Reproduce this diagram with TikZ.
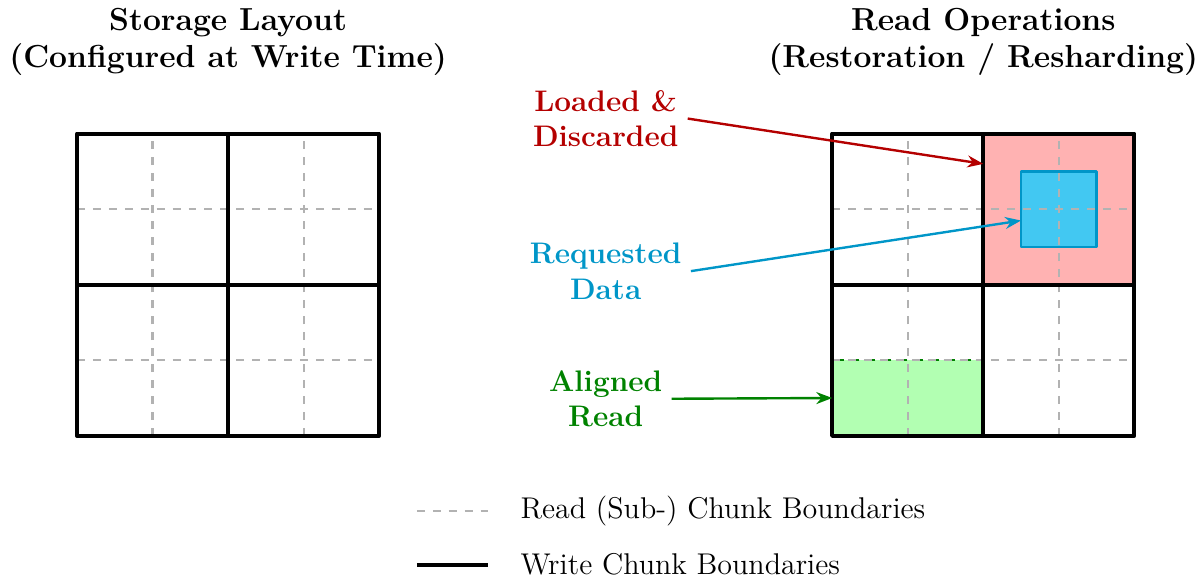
\documentclass[tikz,border=0pt]{standalone}
\usepackage{xcolor}
\usepackage{tikz}
\usetikzlibrary{arrows, arrows.meta, positioning, calc}

\definecolor{discardred}{RGB}{180,0,0}
\definecolor{reqblue}{RGB}{0,150,200}
\definecolor{reqfill}{RGB}{66,200,242}
\definecolor{alignedgreen}{RGB}{0,130,0}

\begin{document}
\begin{tikzpicture}[line join=round,
    subline/.style={draw=gray!60, dashed, line width=0.8pt},
    writeline/.style={draw=black, line width=1.6pt},
    title/.style={font=\large\bfseries, align=center},
    callout/.style={font=\fontsize{11.2}{13.5}\selectfont\bfseries, align=center},
    cell/.style={rectangle, inner sep=0pt, outer sep=0pt},
    keytext/.style={anchor=west, inner sep=1pt, font=\fontsize{11.3}{13.5}\selectfont},
    line/.style={draw, -{Stealth[length=6pt, width=4.5pt]}, line width=0.9pt}]

    \useasboundingbox (-1.02,-1.87) rectangle (14.87,5.77);

    % Titles
    \node [title] (storetitle) at (2,5.22) {Storage Layout\\(Configured at Write Time)};
    \node [title] (readtitle) at (12,5.22) {Read Operations\\(Restoration / Resharding)};

    % Left grid: storage layout
    \foreach \p in {1,3} {
        \draw [subline] (\p,0) -- (\p,4);
        \draw [subline] (0,\p) -- (4,\p);
    }
    \draw [writeline] (0,0) rectangle (4,4);
    \draw [writeline] (2,0) -- (2,4) (0,2) -- (4,2);

    % Right grid: highlighted regions
    \node [cell, fill=red!30, minimum size=2cm] (loaded) at (13,3) {};
    \node [cell, fill=reqfill, draw=reqblue, line width=0.9pt, minimum size=1cm] (req) at (13,3) {};
    \node [cell, fill=green!30, draw=alignedgreen, dashed, line width=0.9pt, minimum width=2cm, minimum height=1cm] (aligned) at (11,0.5) {};

    \foreach \p in {11,13} \draw [subline] (\p,0) -- (\p,4);
    \foreach \p in {1,3} \draw [subline] (10,\p) -- (14,\p);
    \draw [writeline] (10,0) rectangle (14,4);
    \draw [writeline] (12,0) -- (12,4) (10,2) -- (14,2);

    % Callouts
    \node [callout, text=discardred] (loadlbl) at (7.0,4.2) {Loaded \&\\Discarded};
    \node [callout, text=reqblue] (reqlbl) at (7.0,2.18) {Requested\\Data};
    \node [callout, text=alignedgreen] (alignlbl) at (7.0,0.49) {Aligned\\Read};

    \path [line, discardred] (loadlbl.east) -- ($(loaded.north west)!0.2!(loaded.south west)$);
    \path [line, reqblue] (reqlbl.east) -- ($(req.north west)!0.65!(req.south west)$);
    \path [line, alignedgreen] (alignlbl.east) -- (aligned.west);

    % Legend
    \coordinate (dashA) at (4.5,-1.0);
    \coordinate (dashB) at (5.44,-1.0);
    \coordinate (solidA) at (4.5,-1.71);
    \coordinate (solidB) at (5.44,-1.71);
    \draw [subline] (dashA) -- (dashB);
    \draw [writeline] (solidA) -- (solidB);
    \node [keytext] (readkey) at (5.83,-1.0) {Read (Sub-) Chunk Boundaries};
    \node [keytext] (writekey) at (5.83,-1.70) {Write Chunk Boundaries};

\end{tikzpicture}
\end{document}
